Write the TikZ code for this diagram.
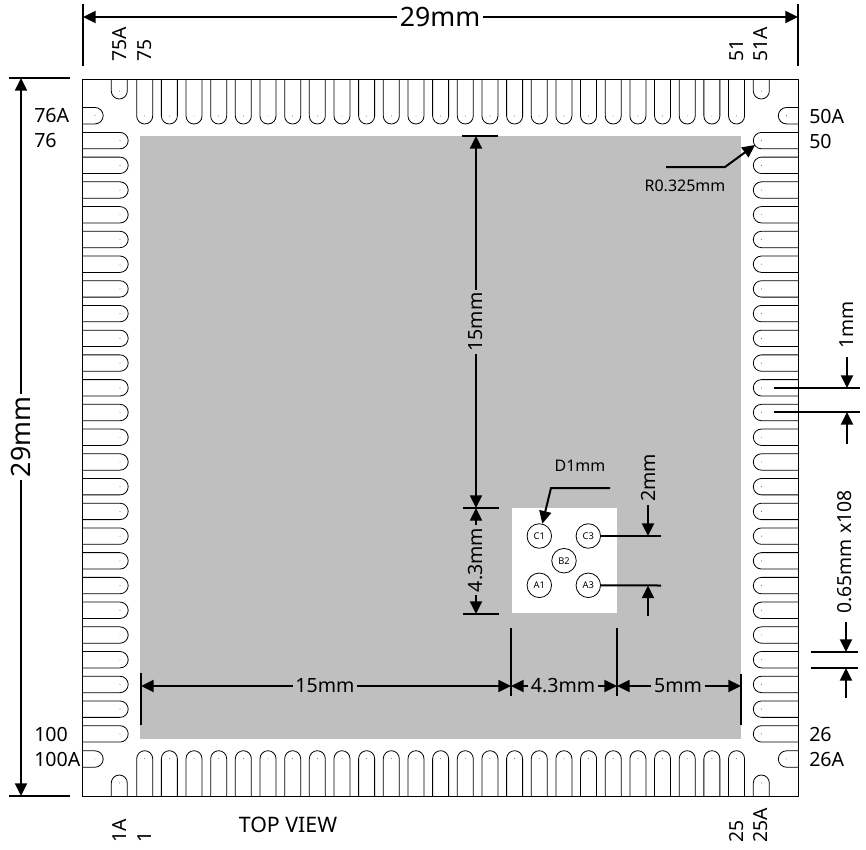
\documentclass[tikz,border=0pt]{standalone}
\usepackage{fontspec}
\setmainfont{Noto Sans}
\usetikzlibrary{arrows.meta, positioning}
\definecolor{padgray}{HTML}{BFBFBF}
\tikzset{
    dimline/.style={line width=1.5pt},
    extline/.style={line width=1.2pt},
    dimarrow/.style={line width=1.5pt, -{Triangle[length=9.5pt,width=9pt]}},
    pad/.style={draw=black, line width=0.6pt, fill=white},
    pindot/.style={circle, fill=black!70, inner sep=0pt, minimum size=0.7pt},
    ball/.style={circle, draw=black, line width=0.6pt, fill=white, inner sep=0pt, minimum size=18.4pt, font=\fontsize{7}{8}\selectfont},
    biglabel/.style={inner sep=2pt, font=\fontsize{20}{22}\selectfont},
    midlabel/.style={inner sep=2pt, font=\fontsize{14.7}{16}\selectfont},
    pinlabel/.style={inner sep=0pt, font=\fontsize{14.5}{16}\selectfont},
    sidelabel/.style={inner sep=0pt, font=\fontsize{14.7}{16}\selectfont},
    smalllabel/.style={inner sep=2pt, font=\fontsize{12}{14}\selectfont}
}
\begin{document}
\begin{tikzpicture}[x=0.75pt, y=0.75pt]
    \useasboundingbox (0,0) rectangle (866,-849);

    % slug
    \fill[padgray] (140,-136) rectangle (741,-739);
    \fill[white] (512,-508) rectangle (617,-613);

    % long pads
    \foreach \i in {0,...,24} {
        \pgfmathsetmacro{\px}{144.7+24.66*\i}
        \pgfmathsetmacro{\py}{140.6+24.72*\i}
        \draw[pad] (\px-8,-79) -- (\px-8,-116) arc (180:360:8) -- (\px+8,-79);
        \draw[pad] (\px-8,-796) -- (\px-8,-758.7) arc (180:0:8) -- (\px+8,-796);
        \draw[pad] (82.5,-\py+8.2) -- (120,-\py+8.2) arc (90:-90:8.2) -- (82.5,-\py-8.2);
        \draw[pad] (798.5,-\py+8.2) -- (761.5,-\py+8.2) arc (90:270:8.2) -- (798.5,-\py-8.2);
        \node[pindot] at (\px,-116) {};
        \node[pindot] at (\px,-758.7) {};
        \node[pindot] at (120,-\py) {};
        \node[pindot] at (761.5,-\py) {};
    }
    % corner pads
    \foreach \px in {119.3,761.3} {
        \draw[pad] (\px-8,-79) -- (\px-8,-91) arc (180:360:8) -- (\px+8,-79);
        \draw[pad] (\px-8,-796) -- (\px-8,-783) arc (180:0:8) -- (\px+8,-796);
        \node[pindot] at (\px,-91) {};
        \node[pindot] at (\px,-783) {};
    }
    \foreach \py in {115.7,759} {
        \draw[pad] (82.5,-\py+8.2) -- (95,-\py+8.2) arc (90:-90:8.2) -- (82.5,-\py-8.2);
        \draw[pad] (798.5,-\py+8.2) -- (786.5,-\py+8.2) arc (90:270:8.2) -- (798.5,-\py-8.2);
        \node[pindot] at (95,-\py) {};
        \node[pindot] at (786.5,-\py) {};
    }

    % outline
    \draw[line width=0.7pt] (82.5,-79) rectangle (798.5,-796);

    % pin numbers
    \node[pinlabel, rotate=90, anchor=west] (p75a) at (120,-62) {75A};
    \node[pinlabel, rotate=90, anchor=west] (p75) at (144.7,-62) {75};
    \node[pinlabel, rotate=90, anchor=west] (p51) at (737,-62) {51};
    \node[pinlabel, rotate=90, anchor=west] (p51a) at (761,-62) {51A};
    \node[pinlabel, rotate=90, anchor=west] (p1a) at (120,-843) {1A};
    \node[pinlabel, rotate=90, anchor=west] (p1) at (144.7,-843) {1};
    \node[pinlabel, rotate=90, anchor=west] (p25) at (737,-843) {25};
    \node[pinlabel, rotate=90, anchor=west] (p25a) at (761,-843) {25A};
    \node[sidelabel, anchor=west] (p76a) at (34,-116) {76A};
    \node[sidelabel, anchor=west] (p76) at (34,-141) {76};
    \node[sidelabel, anchor=west] (p100) at (34,-734) {100};
    \node[sidelabel, anchor=west] (p100a) at (34,-759) {100A};
    \node[sidelabel, anchor=west] (p50a) at (809,-116) {50A};
    \node[sidelabel, anchor=west] (p50) at (809,-141) {50};
    \node[sidelabel, anchor=west] (p26) at (809,-734) {26};
    \node[sidelabel, anchor=west] (p26a) at (809,-759) {26A};
    \node[inner sep=0pt, font=\fontsize{16}{18}\selectfont] (view) at (288,-825) {TOP VIEW};

    % balls
    \node[ball] (c1) at (539.3,-536) {C1};
    \node[ball] (c3) at (588.3,-536) {C3};
    \node[ball] (b2) at (564,-560.7) {B2};
    \node[ball] (a1) at (539.3,-585.3) {A1};
    \node[ball] (a3) at (588.3,-585.3) {A3};

    % overall size
    \coordinate (tl) at (83,-17);
    \coordinate (tr) at (798,-17);
    \draw[dimline] (83,-4) -- (83,-66);
    \draw[dimline] (798,-4) -- (798,-66);
    \node[biglabel] (wtot) at (440,-17) {29mm};
    \draw[dimarrow] (wtot) -- (tl);
    \draw[dimarrow] (wtot) -- (tr);

    \coordinate (lt) at (21,-78);
    \coordinate (lb) at (21,-796);
    \draw[dimline] (9,-78) -- (70,-78);
    \draw[dimline] (9,-796) -- (70,-796);
    \node[biglabel, rotate=90] (htot) at (21,-437) {29mm};
    \draw[dimarrow] (htot) -- (lt);
    \draw[dimarrow] (htot) -- (lb);

    % vertical dimensions on the slug
    \coordinate (v1) at (476,-136);
    \coordinate (v2) at (476,-508);
    \coordinate (v3) at (476,-614);
    \draw[dimline] (462,-136) -- (498,-136);
    \draw[dimline] (463,-508) -- (499,-508);
    \draw[extline] (463,-614) -- (499,-614);
    \node[midlabel, rotate=90] (h15) at (476,-322) {15mm};
    \draw[dimarrow] (h15) -- (v1);
    \draw[dimarrow] (h15) -- (v2);
    \node[midlabel, rotate=90] (h43) at (476,-560) {4.3mm};
    \draw[dimarrow] (h43) -- (v2);
    \draw[dimarrow] (h43) -- (v3);

    % horizontal dimensions on the slug
    \coordinate (s1) at (141,-686);
    \coordinate (s2) at (511,-686);
    \coordinate (s3) at (617,-686);
    \coordinate (s4) at (741,-686);
    \draw[dimline] (141,-673) -- (141,-725);
    \draw[extline] (511,-628) -- (511,-696);
    \draw[extline] (617,-628) -- (617,-696);
    \draw[dimline] (740.5,-674) -- (740.5,-725);
    \node[midlabel] (w15) at (325,-686) {15mm};
    \draw[dimarrow] (w15) -- (s1);
    \draw[dimarrow] (w15) -- (s2);
    \node[midlabel] (w43) at (563,-686) {4.3mm};
    \draw[dimarrow] (w43) -- (s2);
    \draw[dimarrow] (w43) -- (s3);
    \node[midlabel] (w5) at (678,-686) {5mm};
    \draw[dimarrow] (w5) -- (s3);
    \draw[dimarrow] (w5) -- (s4);

    % ball pitch
    \coordinate (r1) at (661,-536);
    \coordinate (r2) at (661,-585.5);
    \coordinate (r1a) at (648,-536);
    \coordinate (r2a) at (648,-585.5);
    \coordinate (r2b) at (648,-616);
    \draw[extline] (c3) -- (r1);
    \draw[dimline] (a3) -- (r2);
    \node[midlabel, rotate=90] (p2) at (648,-478) {2mm};
    \draw[dimarrow] (p2) -- (r1a);
    \draw[dimarrow] (r2b) -- (r2a);

    % ball diameter
    \node[smalllabel] (d1) at (580,-466) {D1mm};
    \coordinate (d1a) at (610,-488);
    \coordinate (d1b) at (551,-488);
    \draw[dimline, -{Triangle[length=9.5pt,width=9pt]}] (d1a) -- (d1b) -- (c1);

    % corner radius
    \node[smalllabel] (rad) at (685,-186) {R0.325mm};
    \coordinate (ra) at (666,-167);
    \coordinate (rb) at (725,-167);
    \coordinate (rc) at (755,-145);
    \draw[dimline, -{Triangle[length=9.5pt,width=9pt]}] (ra) -- (rb) -- (rc);

    % lead width
    \coordinate (w1) at (847,-388);
    \coordinate (w2) at (847,-412);
    \coordinate (w1s) at (847,-357);
    \coordinate (w2s) at (847,-444);
    \draw[extline] (774,-388) -- (860,-388);
    \draw[dimline] (774,-412) -- (860,-412);
    \node[pinlabel, rotate=90] (w1mm) at (847,-325) {1mm};
    \draw[dimarrow] (w1s) -- (w1);
    \draw[dimarrow] (w2s) -- (w2);

    % lead pitch
    \coordinate (g1) at (846,-652);
    \coordinate (g2) at (846,-668);
    \coordinate (g1s) at (846,-622);
    \coordinate (g2s) at (846,-698);
    \draw[dimline] (811,-652) -- (858,-652);
    \draw[dimline] (811,-668) -- (858,-668);
    \node[pinlabel, rotate=90] (g065) at (845,-552) {0.65mm x108};
    \draw[dimarrow] (g1s) -- (g1);
    \draw[dimarrow] (g2s) -- (g2);
\end{tikzpicture}
\end{document}
